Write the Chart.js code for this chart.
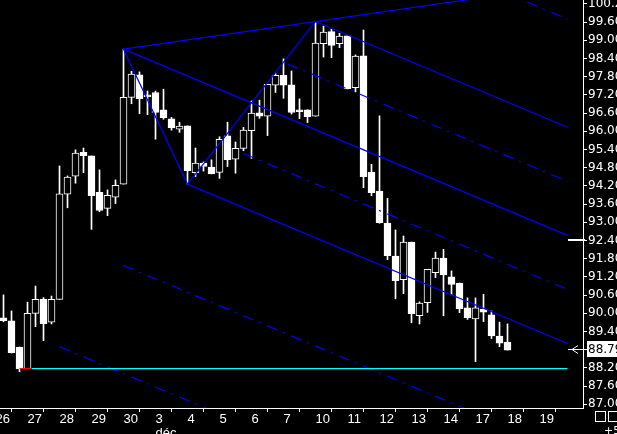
<!DOCTYPE html>
<html>
<head>
<meta charset="utf-8">
<script src="https://cdn.jsdelivr.net/npm/chart.js@4"></script>
<style>
  html, body { margin: 0; padding: 0; background: #000; overflow: hidden; }
  canvas { display: block; }
</style>
</head>
<body>
<canvas id="chart" width="617" height="434"></canvas>
<script>
// intraday bars, four per session
const opens = [89.85, 89.75, 88.89, 88.18, 90.00, 90.47, 89.71, 90.46, 93.93, 94.52,
    95.31, 95.19, 93.99, 93.46, 93.83, 94.26, 97.12, 97.86, 97.20, 97.28,
    96.71, 96.41, 96.07, 96.18, 94.64, 94.95, 94.82, 94.65, 95.85, 95.08,
    95.44, 96.02, 96.61, 96.50, 97.52, 97.85, 97.53, 96.71, 96.71, 96.50,
    98.89, 99.29, 98.89, 99.15, 97.44, 98.49, 94.66, 94.03, 92.98, 91.89,
    91.11, 92.35, 89.92, 90.35, 91.34, 91.82, 91.20, 91.00, 90.18, 89.82,
    90.13, 89.95, 89.25, 89.05];
const highs = [90.61, 90.08, 88.89, 90.37, 90.90, 90.52, 90.57, 94.86, 94.53, 95.39,
    95.45, 95.19, 94.73, 94.07, 94.40, 98.71, 97.98, 97.96, 97.33, 97.33,
    97.39, 96.46, 96.30, 96.18, 95.45, 94.99, 95.06, 95.82, 96.30, 95.65,
    96.13, 97.00, 97.03, 97.55, 97.90, 98.39, 97.99, 97.07, 96.71, 99.62,
    99.47, 99.37, 99.23, 99.15, 98.52, 99.34, 94.91, 96.51, 93.79, 92.75,
    92.55, 92.35, 90.38, 91.45, 92.02, 92.11, 91.40, 91.00, 90.51, 90.51,
    90.63, 90.08, 89.71, 89.65];
const lows = [89.72, 88.69, 88.08, 88.18, 89.56, 89.10, 89.65, 90.46, 93.48, 94.29,
    94.64, 92.77, 93.35, 93.22, 93.62, 94.26, 96.91, 96.58, 96.55, 95.74,
    96.40, 96.04, 95.97, 94.26, 94.51, 94.69, 94.60, 94.45, 94.84, 94.62,
    95.36, 95.11, 96.43, 95.86, 97.28, 97.09, 96.57, 96.42, 96.29, 96.50,
    98.45, 98.43, 98.76, 97.40, 97.30, 94.14, 93.88, 92.97, 91.77, 90.48,
    90.65, 89.69, 89.65, 90.03, 91.18, 89.92, 90.61, 90.02, 89.80, 88.41,
    89.73, 89.17, 88.90, 88.79];
const closes = [89.76, 88.70, 88.18, 90.00, 90.46, 89.66, 90.46, 93.94, 94.49, 95.28,
    95.20, 93.88, 93.39, 93.89, 94.22, 97.12, 97.89, 97.08, 97.14, 96.62,
    96.45, 96.11, 96.17, 94.70, 94.95, 94.84, 94.60, 95.74, 95.07, 95.44,
    96.04, 96.60, 96.50, 97.55, 97.85, 97.52, 96.62, 96.65, 96.48, 98.91,
    99.27, 98.83, 99.14, 97.40, 98.48, 94.51, 93.98, 92.99, 91.90, 91.08,
    92.35, 89.99, 90.34, 91.45, 91.82, 91.27, 90.95, 90.15, 89.86, 90.18,
    90.04, 89.26, 89.02, 88.79];

// first bar of every session and the day shown under it
const sessionStarts = [-1, 3, 7, 11, 15, 19, 23, 27, 31, 35, 39, 43, 47, 51, 55, 59, 63, 67];
const sessionLabels = ['26', '27', '28', '29', '30', ['3', 'déc'], '4', '5', '6', '7',
    '10', '11', '12', '13', '14', '17', '18', '19'];

const priceTicks = [87.00, 87.60, 88.20, 88.80, 89.40, 90.00, 90.60, 91.20, 91.80, 92.40,
    93.00, 93.60, 94.20, 94.80, 95.40, 96.00, 96.60, 97.20, 97.80, 98.40,
    99.00, 99.60, 100.20];

// pitchfork: pivot bars (high, low, high) and where the drawn lines stop
const pivotBars = [15, 23, 39];
const pivotPrices = [98.71, 94.26, 99.62];
const forkEnd = 70.5;
// dashed extra lines: multiple of the handle width, and first bar
const dashedLevels = [0.5, -0.5, -2, -3, 2];
const dashedStarts = [35.5, 30, 15, 7, 35.5];

// horizontal support line (red stub, then cyan)
const supportLevel = 88.18;
const supportBars = [2, 3.5, forkEnd];
const medianMarker = 92.42;

const BLUE = '#0000ff';

// build the fork lines from the three pivots
const [aX, bX, cX] = pivotBars;
const [aY, bY, cY] = pivotPrices;
const slope = ((bY + cY) / 2 - aY) / ((bX + cX) / 2 - aX);
const median = (x) => aY + slope * (x - aX);
const upperOff = cY - median(cX);
const lowerOff = bY - median(bX);

function forkLine(start, offset, dashed) {
    return {
        type: 'line',
        data: [{x: start, y: median(start) + offset}, {x: forkEnd, y: median(forkEnd) + offset}],
        borderColor: BLUE,
        borderWidth: 1.2,
        borderDash: dashed ? [11, 6, 2, 7] : [],
        pointRadius: 0,
        clip: 0,
        order: 0,
    };
}
function segment(x0, y0, x1, y1, color) {
    return {
        type: 'line',
        data: [{x: x0, y: y0}, {x: x1, y: y1}],
        borderColor: color,
        borderWidth: 1.2,
        pointRadius: 0,
        clip: 0,
        order: 0,
    };
}

const acSlope = (cY - aY) / (cX - aX);
const lineSets = [
    segment(aX, aY, bX, bY, BLUE),
    segment(bX, bY, cX, cY, BLUE),
    segment(aX, aY, forkEnd, aY + acSlope * (forkEnd - aX), BLUE),
    forkLine(aX, 0, false),
    forkLine(cX, upperOff, false),
    forkLine(bX, lowerOff, false),
    segment(supportBars[0], supportLevel, supportBars[1], supportLevel, '#ff0000'),
    segment(supportBars[1], supportLevel, supportBars[2], supportLevel, '#00ffff'),
];
dashedLevels.forEach((lvl, k) => {
    const off = lvl > 0 ? upperOff * lvl : lowerOff * -lvl;
    lineSets.push(forkLine(dashedStarts[k], off, true));
});

// price tags on the right edge, plus the little window buttons
const priceMarkers = {
    id: 'priceMarkers',
    afterDraw(chart) {
        const ctx = chart.ctx;
        const xs = chart.scales.x;
        const ys = chart.scales.y;
        const area = chart.chartArea;
        const left = Math.round(xs.getPixelForValue(forkEnd));
        ctx.save();
        ctx.fillStyle = '#fff';
        ctx.strokeStyle = '#fff';
        ctx.lineWidth = 1;
        // tab where the median line reaches the edge
        const yMed = Math.round(ys.getPixelForValue(medianMarker));
        ctx.fillRect(left, yMed - 1, area.right + 2 - left, 2);
        // last price arrow and inverted label
        const last = closes[closes.length - 1];
        const yLast = Math.round(ys.getPixelForValue(last)) - 1;
        ctx.fillRect(left, yLast, area.right + 3 - left, 1);
        ctx.beginPath();
        ctx.moveTo(left + 10, yLast - 3.5);
        ctx.lineTo(left + 4, yLast + 0.5);
        ctx.lineTo(left + 10, yLast + 4.5);
        ctx.stroke();
        ctx.fillRect(area.right + 4, yLast - 8, 40, 16);
        ctx.fillStyle = '#000';
        ctx.font = '12px "DejaVu Sans"';
        ctx.textBaseline = 'middle';
        ctx.textAlign = 'left';
        ctx.fillText(last.toFixed(2), area.right + 5, yLast + 0.5);
        // window buttons in the corner
        ctx.strokeRect(595.5, 411.5, 10, 10);
        ctx.strokeRect(608.5, 411.5, 10, 10);
        ctx.fillStyle = '#fff';
        ctx.textBaseline = 'top';
        ctx.font = '11px "DejaVu Sans"';
        ctx.fillText('+5', 604, 426);
        ctx.restore();
    }
};

const bars = opens.map((o, i) => i);

const chart = new Chart(document.getElementById('chart'), {
    type: 'bar',
    data: {
        datasets: [
            {
                // wicks
                data: bars.map(i => ({x: i, y: [lows[i], highs[i]]})),
                backgroundColor: '#fff',
                barThickness: 1,
                grouped: false,
                order: 3,
            },
            {
                // bodies: hollow for up bars, filled for down bars
                data: bars.map(i => ({x: i, y: [opens[i], closes[i]]})),
                backgroundColor: bars.map(i => closes[i] >= opens[i] ? '#000' : '#fff'),
                borderColor: '#fff',
                borderWidth: 1,
                borderSkipped: false,
                barThickness: 7,
                grouped: false,
                order: 2,
            },
            ...lineSets,
        ]
    },
    options: {
        responsive: false,
        animation: false,
        events: [],
        layout: {padding: 0},
        plugins: {legend: {display: false}, tooltip: {enabled: false}},
        scales: {
            x: {
                type: 'linear',
                min: -0.4375,
                max: 72.4375,
                offset: false,
                afterFit(scale) {
                    scale.height = 26;
                    scale.paddingLeft = 0;
                    scale.paddingRight = 0;
                },
                afterBuildTicks(scale) { scale.ticks = sessionStarts.map(v => ({value: v})); },
                grid: {drawOnChartArea: false, color: '#fff', tickLength: 4},
                border: {color: '#fff', width: 1},
                ticks: {
                    color: '#fff',
                    autoSkip: false,
                    maxRotation: 0,
                    minRotation: 0,
                    align: 'start',
                    padding: 1,
                    font: {family: '"Liberation Sans"', size: 13, lineHeight: 1.05},
                    callback: (v, idx) => sessionLabels[idx],
                },
            },
            y: {
                type: 'linear',
                position: 'right',
                min: 86.88,
                max: 100.33,
                afterFit(scale) {
                    scale.width = 34;
                    scale.paddingTop = 0;
                    scale.paddingBottom = 0;
                },
                afterBuildTicks(scale) { scale.ticks = priceTicks.map(v => ({value: v})); },
                grid: {drawOnChartArea: false, color: '#fff', tickLength: 4},
                border: {color: '#fff', width: 1},
                ticks: {
                    color: '#fff',
                    padding: 1,
                    font: {family: '"DejaVu Sans"', size: 12},
                    callback: (v) => Number(v).toFixed(2),
                },
            },
        },
    },
    plugins: [priceMarkers],
});
</script>
</body>
</html>
